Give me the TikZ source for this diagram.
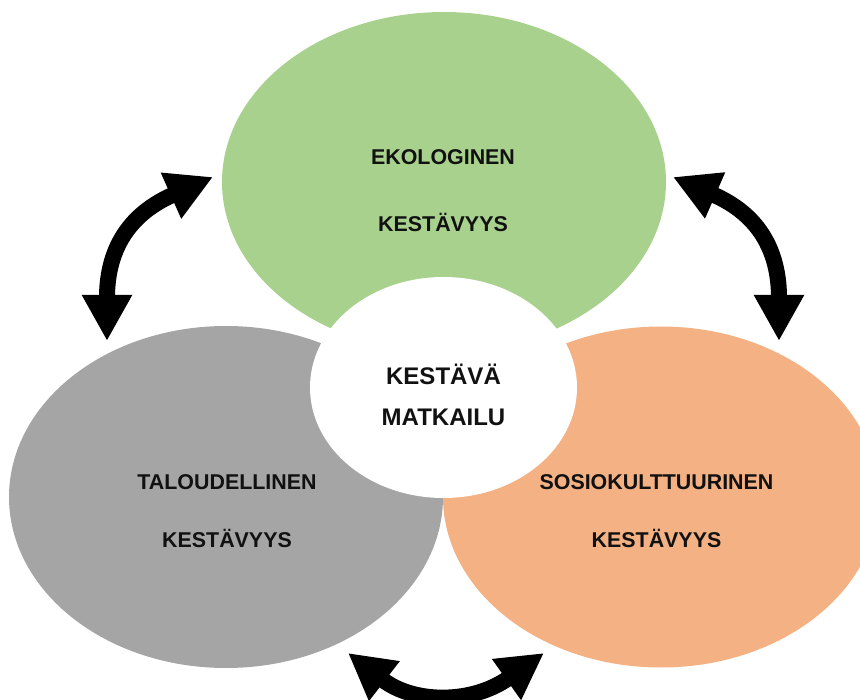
\documentclass[tikz,border=0pt]{standalone}
\usepackage{fontspec}
\setmainfont{Liberation Sans}
\usetikzlibrary{shapes.geometric,arrows.meta}
\definecolor{vihrea}{HTML}{A9D18E}
\definecolor{harmaa}{HTML}{A5A5A5}
\definecolor{oranssi}{HTML}{F4B183}
\definecolor{tekstivari}{HTML}{111111}
\begin{document}
\begin{tikzpicture}[x=1pt, y=-1pt,
  pallo/.style={ellipse, inner sep=0pt},
  teksti/.style={align=center, text=tekstivari, font=\bfseries\fontsize{21.4}{58}\selectfont},
  nuoli/.style={line width=16pt, {Triangle[width=47pt,length=46pt]}-{Triangle[width=47pt,length=46pt]}}]
\useasboundingbox (0,0) rectangle (860,700);
\node[pallo, fill=harmaa, minimum width=434pt, minimum height=342pt] (talous) at (226,497) {};
\node[pallo, fill=oranssi, minimum width=436pt, minimum height=341pt] (sosio) at (661,497) {};
\node[pallo, fill=vihrea, minimum width=444pt, minimum height=340pt] (eko) at (444,182) {};
\node[pallo, fill=white, minimum width=267pt, minimum height=221pt] (matkailu) at (443.5,387.5) {};
\node[teksti, font=\bfseries\fontsize{21.4}{67}\selectfont] (ekoteksti) at (443,190.5) {EKOLOGINEN\\KESTÄVYYS};
\node[teksti] (talousteksti) at (227,511) {TALOUDELLINEN\\KESTÄVYYS};
\node[teksti] (sosioteksti) at (656.5,511) {SOSIOKULTTUURINEN\\KESTÄVYYS};
\node[teksti, font=\bfseries\fontsize{24}{41}\selectfont] (matkailuteksti) at (443.5,394.5) {KESTÄVÄ\\MATKAILU};
% nuolet
\coordinate (vasenAla) at (107,341);
\coordinate (vasenYla) at (213,177);
\coordinate (oikeaAla) at (779,341);
\coordinate (oikeaYla) at (673,177);
\coordinate (alaVasen) at (348,653);
\coordinate (alaOikea) at (544,653);
\draw[nuoli] (vasenAla) .. controls (107,230) and (150,205) .. (vasenYla);
\draw[nuoli] (oikeaAla) .. controls (779,230) and (737,205) .. (oikeaYla);
\draw[nuoli] (alaVasen) .. controls (414,704) and (472,704) .. (alaOikea);
\end{tikzpicture}
\end{document}
